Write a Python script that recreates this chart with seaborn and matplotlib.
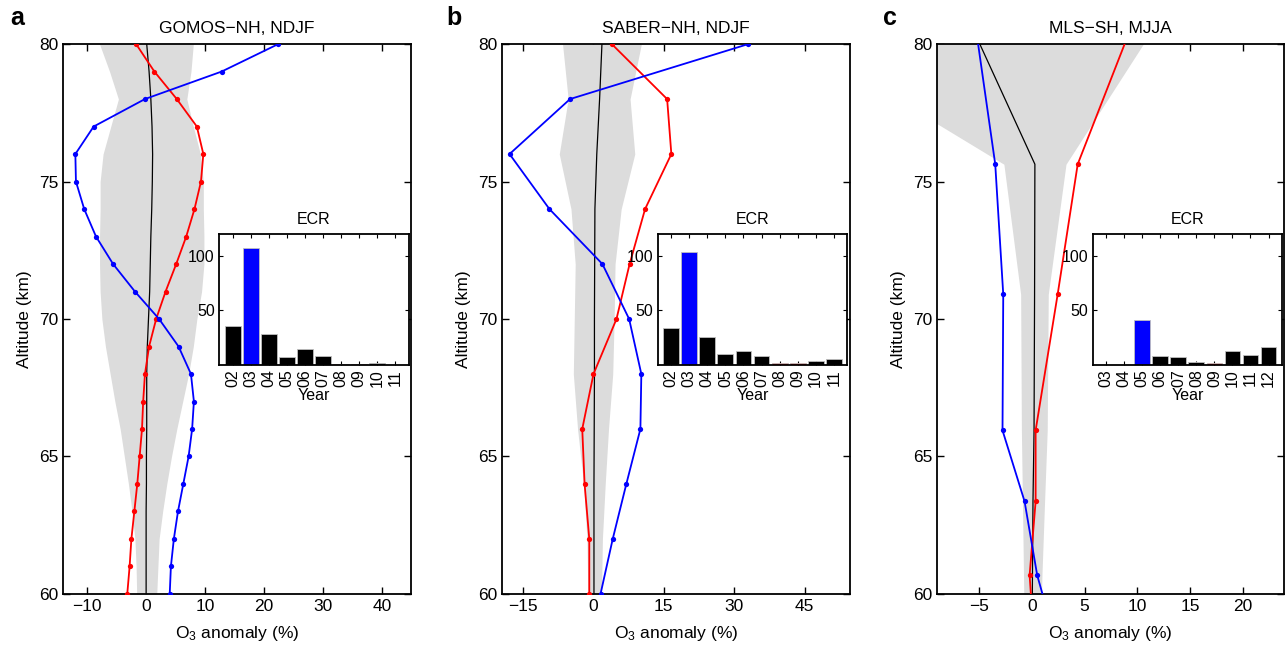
import numpy as np
import matplotlib
matplotlib.use("Agg")
import matplotlib.pyplot as plt
import seaborn as sns

# --- panel a: GOMOS-NH, NDJF (1 km levels) ---
alt_a = [60, 61, 62, 63, 64, 65, 66, 67, 68, 69, 70, 71, 72, 73, 74, 75, 76, 77, 78, 79, 80]
gomos_red = [-3.2, -2.8, -2.5, -2.0, -1.5, -1.1, -0.7, -0.5, -0.2, 0.5, 1.7,
             3.3, 5.1, 6.8, 8.2, 9.3, 9.7, 8.6, 5.2, 1.4, -1.7]
gomos_blue = [4.0, 4.2, 4.7, 5.4, 6.3, 7.2, 7.8, 8.1, 7.6, 5.5, 2.2,
              -1.9, -5.6, -8.5, -10.5, -11.9, -12.0, -8.9, -0.2, 12.8, 22.4]
gomos_mean = [0.0, 0.0, 0.0, 0.0, 0.05, 0.05, 0.1, 0.1, 0.1, 0.2, 0.4,
              0.6, 0.7, 0.8, 0.95, 1.05, 1.1, 1.0, 0.8, 0.5, 0.1]
gomos_lo = [-1.6, -1.7, -1.9, -2.4, -3.0, -3.7, -4.4, -5.3, -6.1, -6.9, -7.5,
            -7.8, -7.9, -7.9, -7.8, -7.8, -7.3, -6.0, -4.7, -6.2, -7.9]
gomos_hi = [1.8, 2.0, 2.2, 2.8, 3.5, 4.3, 5.2, 6.2, 7.2, 8.0, 8.6,
            9.4, 9.8, 9.8, 9.7, 9.7, 9.2, 8.0, 6.9, 7.6, 8.0]

# --- panel b: SABER-NH, NDJF (2 km levels) ---
alt_b = [60, 62, 64, 66, 68, 70, 72, 74, 76, 78, 80]
saber_red = [-0.9, -0.9, -1.9, -2.4, 0.0, 4.9, 7.7, 11.0, 16.6, 15.7, 3.9]
saber_blue = [1.5, 4.1, 7.0, 10.0, 10.2, 7.6, 1.9, -9.4, -17.9, -5.0, 33.0]
saber_mean = [0.1, 0.1, 0.1, 0.15, 0.2, 0.2, 0.25, 0.3, 0.7, 1.3, 1.8]
saber_lo = [-1.2, -1.4, -2.1, -3.4, -4.3, -4.1, -3.9, -4.8, -7.3, -5.4, -6.6]
saber_hi = [1.7, 1.9, 2.5, 3.2, 4.1, 4.4, 4.6, 5.9, 8.8, 7.8, 10.2]

# --- panel c: MLS-SH, MJJA (pressure levels as altitude) ---
alt_c = [58.0, 60.68, 63.37, 65.95, 70.9, 75.63, 80.5]
mls_red = [0.25, -0.22, 0.35, 0.35, 2.44, 4.34, 9.3]
mls_blue = [2.47, 0.5, -0.70, -2.79, -2.72, -3.48, -5.29]
mls_mean = [0.0, 0.05, 0.1, 0.2, 0.25, 0.28, -5.54]
mls_lo = [-0.7, -0.8, -0.9, -1.0, -1.07, -2.66, -23.6]
mls_hi = [0.8, 0.95, 1.2, 1.45, 1.55, 3.23, 11.4]

# --- ECR insets ---
years_a = ["02", "03", "04", "05", "06", "07", "08", "09", "10", "11"]
ecr_a = [35.5, 107, 28, 7.3, 14.5, 8.5, 1.0, 1.0, 1.5, 0.3]
years_b = ["02", "03", "04", "05", "06", "07", "08", "09", "10", "11"]
ecr_b = [33.5, 103.5, 25.5, 10, 13, 7.8, 2.0, 2.0, 4.0, 5.5]
years_c = ["03", "04", "05", "06", "07", "08", "09", "10", "11", "12"]
ecr_c = [0, 0, 41, 8.5, 7.3, 2.7, 2.0, 12.4, 9.1, 16.4]
hot_a, cold_a = ["03"], ["08", "09"]
hot_b, cold_b = ["03"], ["08", "09"]
hot_c, cold_c = ["05"], ["09"]

sns.set_style("ticks", {"xtick.direction": "in", "ytick.direction": "in"})
plt.rcParams["font.family"] = ["Liberation Sans", "DejaVu Sans"]
plt.rcParams["mathtext.fontset"] = "custom"
plt.rcParams["mathtext.rm"] = "Liberation Sans"
plt.rcParams["mathtext.it"] = "Liberation Sans:italic"
for k in ["text.color", "axes.labelcolor", "xtick.color", "ytick.color",
          "xtick.labelcolor", "ytick.labelcolor", "axes.edgecolor"]:
    plt.rcParams[k] = "black"

fig = plt.figure(figsize=(12.85, 6.5), dpi=100)


def profile(ax, alt, red, blue, mean, lo, hi, xlim, xticks, title):
    ax.fill_betweenx(alt, lo, hi, color="#dcdcdc", lw=0, zorder=1)
    sns.lineplot(x=mean, y=alt, sort=False, estimator=None, color="black",
                 lw=0.9, ax=ax, zorder=2)
    sns.lineplot(x=red, y=alt, sort=False, estimator=None, color="red",
                 lw=1.3, marker="o", markersize=3.8, markeredgewidth=0,
                 ax=ax, zorder=3)
    sns.lineplot(x=blue, y=alt, sort=False, estimator=None, color="blue",
                 lw=1.3, marker="o", markersize=3.8, markeredgewidth=0,
                 ax=ax, zorder=3)
    ax.set_xlim(*xlim)
    ax.set_ylim(60, 80)
    ax.set_xticks(xticks)
    ax.set_xticklabels([str(t).replace("-", "\u2212") for t in xticks])
    ax.set_yticks([60, 65, 70, 75, 80])
    ax.tick_params(top=True, right=True, direction="in", length=5,
                   width=1, labelsize=12.5, color="black")
    for s in ax.spines.values():
        s.set_linewidth(1.3)
        s.set_color("black")
    ax.set_xlabel("O$_3$ anomaly (%)", fontsize=12.5, labelpad=7)
    ax.set_ylabel("Altitude (km)", fontsize=12.5, labelpad=5)
    ax.set_title(title, fontsize=12.5, pad=8)


def ecr(ax, years, vals, hot, cold):
    pal = {}
    for y in years:
        pal[y] = "blue" if y in hot else ("red" if y in cold else "black")
    sns.barplot(x=years, y=vals, hue=years, palette=pal, legend=False,
                width=0.88, edgecolor="0.75", linewidth=0.6, saturation=1,
                ax=ax)
    ax.set_xlim(-0.75, 9.75)
    ax.set_ylim(0, 120)
    ax.set_yticks([50, 100])
    ax.tick_params(axis="x", rotation=90)
    ax.tick_params(top=True, right=True, direction="in", length=3,
                   width=0.8, labelsize=11.5, color="black", pad=3)
    for s in ax.spines.values():
        s.set_linewidth(1.3)
        s.set_color("black")
    ax.set_xlabel("Year", fontsize=11.5, labelpad=1)
    ax.set_ylabel("")
    ax.set_title("ECR", fontsize=11.5, pad=7)


ax_a = fig.add_axes([0.049, 0.0862, 0.2708, 0.846])
ax_b = fig.add_axes([0.3907, 0.0862, 0.2708, 0.846])
ax_c = fig.add_axes([0.7292, 0.0862, 0.2700, 0.846])

profile(ax_a, alt_a, gomos_red, gomos_blue, gomos_mean, gomos_lo, gomos_hi,
        (-14.1, 44.9), [-10, 0, 10, 20, 30, 40], "GOMOS\u2212NH, NDJF")
profile(ax_b, alt_b, saber_red, saber_blue, saber_mean, saber_lo, saber_hi,
        (-19.5, 54.7), [-15, 0, 15, 30, 45], "SABER\u2212NH, NDJF")
profile(ax_c, alt_c, mls_red, mls_blue, mls_mean, mls_lo, mls_hi,
        (-9.0, 23.9), [-5, 0, 5, 10, 15, 20], "MLS\u2212SH, MJJA")

in_a = fig.add_axes([0.1704, 0.4385, 0.1479, 0.2015])
in_b = fig.add_axes([0.5118, 0.4385, 0.1476, 0.2015])
in_c = fig.add_axes([0.8504, 0.4385, 0.1473, 0.2015])
ecr(in_a, years_a, ecr_a, hot_a, cold_a)
ecr(in_b, years_b, ecr_b, hot_b, cold_b)
ecr(in_c, years_c, ecr_c, hot_c, cold_c)

for lx, lab in [(0.008, "a"), (0.347, "b"), (0.687, "c")]:
    fig.text(lx, 0.972, lab, fontsize=18, fontweight="bold", va="center")

fig.savefig("out.png", dpi=100)
